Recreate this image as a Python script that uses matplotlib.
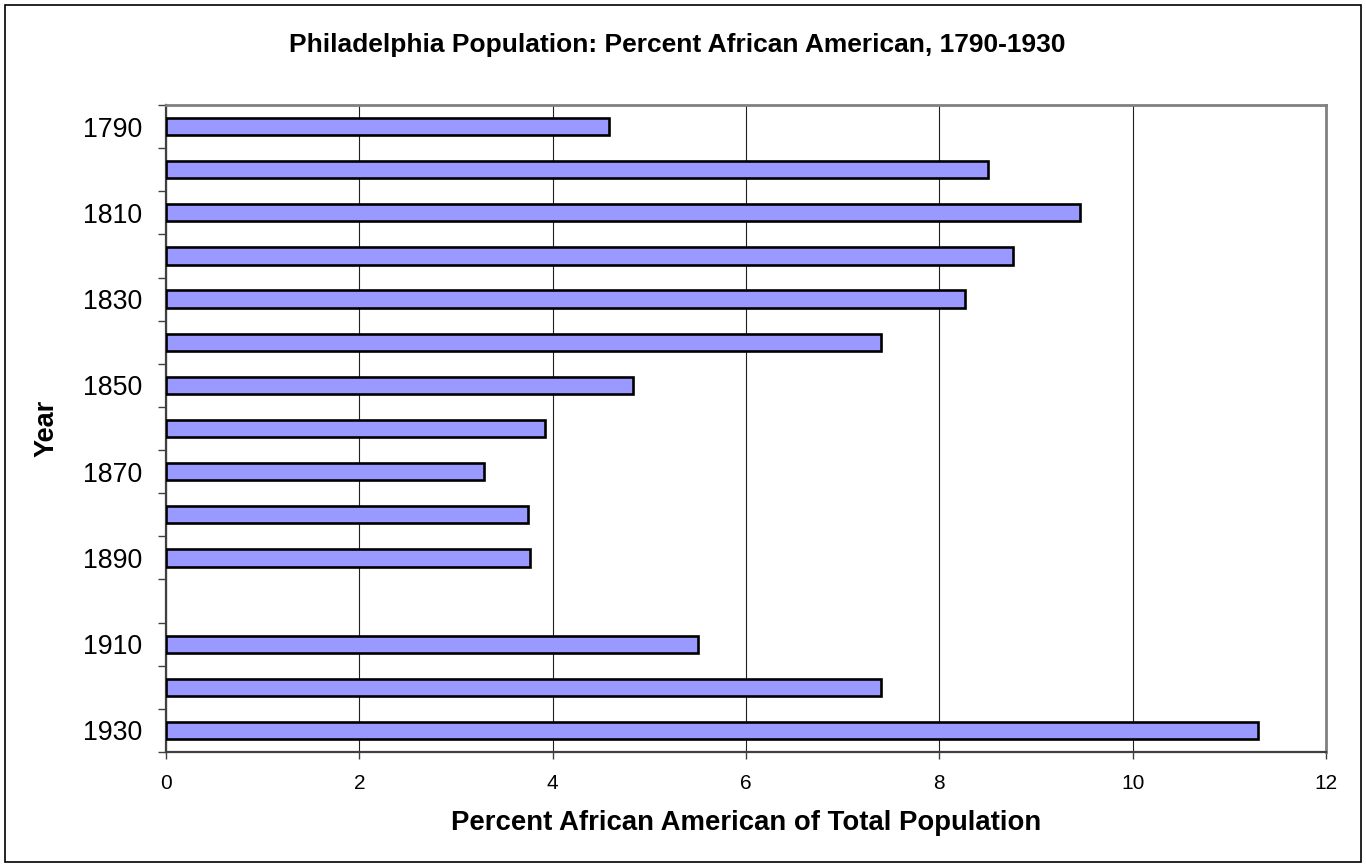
import numpy as np
import matplotlib
matplotlib.use("Agg")
import matplotlib.pyplot as plt
from matplotlib.patches import Rectangle

plt.rcParams['font.family'] = ['Liberation Sans', 'DejaVu Sans']

# data (1900 has no bar)
years = [1790, 1800, 1810, 1820, 1830, 1840, 1850, 1860, 1870, 1880,
         1890, 1900, 1910, 1920, 1930]
percent = [4.58, 8.50, 9.45, 8.76, 8.27, 7.40, 4.83, 3.92, 3.29, 3.74,
           3.77, np.nan, 5.50, 7.40, 11.30]
year_labels = [str(y) if i % 2 == 0 else '' for i, y in enumerate(years)]
xticks = [0, 2, 4, 6, 8, 10, 12]

fig = plt.figure(figsize=(13.66, 8.65), dpi=100)
ax = fig.add_axes([166 / 1366, 1 - 752 / 865, 1160 / 1366, 647 / 865])

pos = np.arange(len(years))
ax.barh(pos, percent, height=0.40, color='#9999FF', edgecolor='black',
        linewidth=1.9, zorder=3)

ax.set_xlim(0, 12)
ax.set_ylim(len(years) - 0.5, -0.5)
ax.set_xticks(xticks)
ax.set_xticklabels([str(v) for v in xticks], fontsize=15)
ax.tick_params(axis='x', length=5, width=1, color='#404040', pad=11)

# tick marks on the category boundaries, labels in the middle
ax.set_yticks(np.arange(-0.5, len(years)), minor=False)
ax.set_yticklabels([])
ax.set_yticks(pos, minor=True)
ax.set_yticklabels(year_labels, minor=True, fontsize=19.3)
ax.tick_params(axis='y', which='major', length=6, width=1, color='#404040')
ax.tick_params(axis='y', which='minor', length=0, pad=17)

ax.grid(axis='x', color='#202020', linewidth=0.8, zorder=0)
ax.set_axisbelow(True)
for s in ['top', 'right']:
    ax.spines[s].set_color('#808080')
    ax.spines[s].set_linewidth(2)
for s in ['left', 'bottom']:
    ax.spines[s].set_color('#404040')
    ax.spines[s].set_linewidth(1.6)

fig.text(677 / 1366, 1 - 45 / 865, 'Philadelphia Population: Percent African American, 1790-1930',
         ha='center', va='center', fontsize=19, fontweight='bold')
fig.text(746 / 1366, 1 - 823 / 865, 'Percent African American of Total Population',
         ha='center', va='center', fontsize=19.8, fontweight='bold')
fig.text(47 / 1366, 1 - 428 / 865, 'Year', ha='center', va='center',
         rotation=90, fontsize=19.5, fontweight='bold')

# outer chart frame
fig.patches.append(Rectangle((5 / 1366, 3 / 865), 1356 / 1366, 857 / 865,
                             transform=fig.transFigure, fill=False,
                             edgecolor='black', linewidth=1.2))

fig.savefig('out.png', dpi=100)
